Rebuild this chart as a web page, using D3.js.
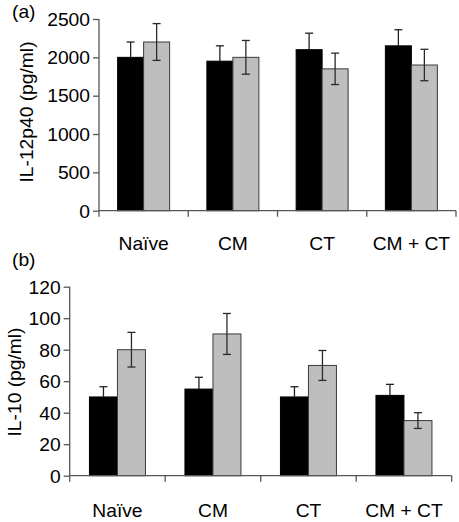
<!DOCTYPE html>
<html><head><meta charset="utf-8">
<script src="https://cdn.jsdelivr.net/npm/d3@7"></script>
<style>
body{margin:0;background:#fff;}
text{font-family:"Liberation Sans",Arial,Helvetica,sans-serif;fill:#000;}
</style></head>
<body>
<svg id="chart" width="459" height="522"></svg>
<script>
const categories = ["Naïve", "CM", "CT", "CM + CT"];
// Panel (a) IL-12p40
const il12Black = [2000, 1950, 2100, 2150];
const il12BlackErr = [200, 200, 215, 210];
const il12Grey = [2200, 2000, 1850, 1900];
const il12GreyErr = [240, 220, 205, 205];
const il12Ticks = [0, 500, 1000, 1500, 2000, 2500];
// Panel (b) IL-10
const il10Black = [50, 55, 50, 51];
const il10BlackErr = [6.5, 7.5, 6.5, 7];
const il10Grey = [80, 90, 70, 35];
const il10GreyErr = [11, 13, 9.5, 5];
const il10Ticks = [0, 20, 40, 60, 80, 100, 120];

const svg = d3.select("#chart");
const FS = 17.5, SX = 1.1;

function panel(o) {
  const g = svg.append("g");
  const x = d3.scaleBand().domain(categories).range([o.x0, o.x1]);
  const y = d3.scaleLinear().domain([0, o.ymax]).range([o.y0, o.y1]);
  const bw = o.bw;
  const series = [
    {vals: o.black, err: o.blackErr, fill: "#000", stroke: "#000", off: -bw, ecol: "#222", lcol: "#000"},
    {vals: o.grey, err: o.greyErr, fill: "#bebebe", stroke: "#3a3a3a", off: 0, ecol: "#2a2a2a", lcol: "#2a2a2a"}
  ];
  series.forEach(s => {
    g.selectAll(null).data(categories).enter().append("rect")
      .attr("x", c => x(c) + x.bandwidth()/2 + s.off)
      .attr("y", (c,i) => y(s.vals[i]))
      .attr("width", bw)
      .attr("height", (c,i) => y(0) - y(s.vals[i]))
      .attr("fill", s.fill).attr("stroke", s.stroke).attr("stroke-width", 1);
    categories.forEach((c,i) => {
      const cx = x(c) + x.bandwidth()/2 + s.off + bw/2;
      const mid = y(s.vals[i]);
      const top = y(s.vals[i] + s.err[i]), bot = y(s.vals[i] - s.err[i]);
      g.append("line").attr("x1", cx).attr("x2", cx).attr("y1", top).attr("y2", mid).attr("stroke", s.ecol).attr("stroke-width", 1.3);
      g.append("line").attr("x1", cx).attr("x2", cx).attr("y1", mid).attr("y2", bot).attr("stroke", s.lcol).attr("stroke-width", 1.3);
      g.append("line").attr("x1", cx-4).attr("x2", cx+4).attr("y1", top).attr("y2", top).attr("stroke", s.ecol).attr("stroke-width", 1.3);
      g.append("line").attr("x1", cx-4).attr("x2", cx+4).attr("y1", bot).attr("y2", bot).attr("stroke", s.lcol).attr("stroke-width", 1.3);
    });
  });
  // y axis
  const ya = g.append("g").attr("transform", `translate(${o.x0},0)`)
    .call(d3.axisLeft(y).tickValues(o.ticks).tickFormat(d3.format("d")).tickSize(6).tickSizeOuter(0).tickPadding(3));
  ya.select(".domain").attr("stroke", "#555").attr("stroke-width", 1.3)
    .attr("d", `M0,${o.y0 + 6}V${o.y1}`);
  ya.selectAll(".tick line").attr("stroke", "#555").attr("stroke-width", 1.3);
  ya.selectAll(".tick text").attr("font-size", FS).attr("font-family", "Liberation Sans, Arial, sans-serif")
    .attr("fill", "#000").attr("x", -9/SX).attr("dy", "0.36em").attr("transform", `scale(${SX},1)`);
  // x axis line and ticks
  g.append("line").attr("x1", o.x0).attr("x2", o.x1).attr("y1", o.y0).attr("y2", o.y0).attr("stroke", "#555").attr("stroke-width", 1.3);
  const bounds = categories.map(c => x(c) + x.bandwidth());
  bounds.forEach(b => g.append("line").attr("x1", b).attr("x2", b).attr("y1", o.y0).attr("y2", o.y0 + 6).attr("stroke", "#555").attr("stroke-width", 1.3));
  // category labels
  categories.forEach(c => {
    const cx = x(c) + x.bandwidth()/2;
    g.append("text").attr("transform", `translate(${cx},${o.labY}) scale(${SX},1)`)
      .attr("text-anchor", "middle").attr("font-size", FS).text(c);
  });
  // y title
  g.append("text").attr("transform", `translate(${o.titleX},${o.titleY}) rotate(-90) scale(${SX},1)`)
    .attr("text-anchor", "middle").attr("dy", "0.35em").attr("font-size", FS).text(o.title);
  // panel letter
  g.append("text").attr("transform", `translate(12,${o.letterY}) scale(${SX},1)`).attr("font-size", FS).text(o.letter);
}

panel({x0: 99, x1: 456, y0: 210.7, y1: 19, ymax: 2500, bw: 26,
  black: il12Black, blackErr: il12BlackErr, grey: il12Grey, greyErr: il12GreyErr,
  ticks: il12Ticks, labY: 250, title: "IL-12p40 (pg/ml)", titleX: 27, titleY: 112, letter: "(a)", letterY: 18});
panel({x0: 69.7, x1: 451.7, y0: 475.7, y1: 286.7, ymax: 120, bw: 28,
  black: il10Black, blackErr: il10BlackErr, grey: il10Grey, greyErr: il10GreyErr,
  ticks: il10Ticks, labY: 516.5, title: "IL-10 (pg/ml)", titleX: 15, titleY: 382, letter: "(b)", letterY: 266});
</script>
</body></html>
